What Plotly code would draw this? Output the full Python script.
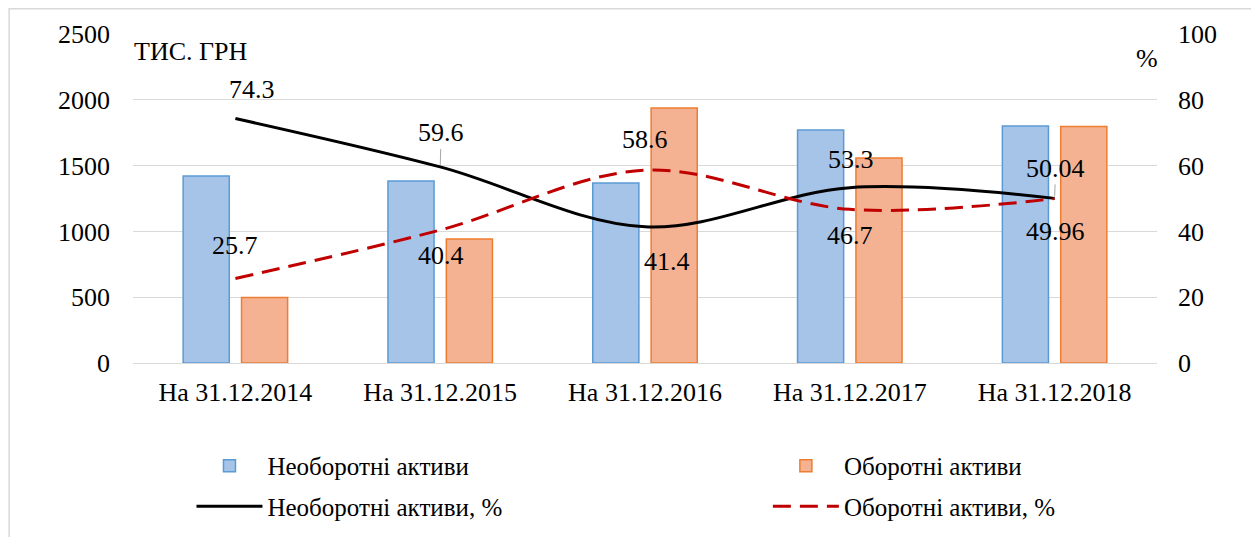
import plotly.graph_objects as go

categories = ["На 31.12.2014", "На 31.12.2015", "На 31.12.2016", "На 31.12.2017", "На 31.12.2018"]
noncurrent = [1421, 1383, 1368, 1771, 1801]
current = [497, 942, 1938, 1558, 1798]
noncurrent_pct = [74.3, 59.6, 41.4, 53.3, 50.04]
current_pct = [25.7, 40.4, 58.6, 46.7, 49.96]
noncurrent_pct_labels = ["74.3", "59.6", "41.4", "53.3", "50.04"]
current_pct_labels = ["25.7", "40.4", "58.6", "46.7", "49.96"]

# label offsets (px) styling
nc_dx = [17, 1, 22, 1, 1]
nc_dy = [-29, -34, 35, -28, -30]
nc_arrow = [False, True, False, False, True]
c_dx = [0, 1, 0, 0, 1]
c_dy = [-33, 25, -31, 26, 33]

FONT = "Liberation Serif, Times New Roman, serif"
FS = 26

fig = go.Figure()
fig.add_trace(go.Bar(
    x=categories, y=noncurrent, name="Необоротні активи",
    legend="legend", legendgroup="a",
    marker=dict(color="#A6C3E8", line=dict(color="#5B9BD5", width=1.5)),
))
fig.add_trace(go.Bar(
    x=categories, y=current, name="Оборотні активи",
    legend="legend2", legendgroup="b",
    marker=dict(color="#F5B293", line=dict(color="#ED7D31", width=1.5)),
))
fig.add_trace(go.Scatter(
    x=categories, y=noncurrent_pct, name="Необоротні активи, %", yaxis="y2",
    legend="legend", legendgroup="c",
    mode="lines", line=dict(color="black", width=3, shape="spline", smoothing=1.0),
))
fig.add_trace(go.Scatter(
    x=categories, y=current_pct, name="Оборотні активи, %", yaxis="y2",
    legend="legend2", legendgroup="d",
    mode="lines", line=dict(color="#C00000", width=3, shape="spline", smoothing=1.0, dash="18px,9px"),
))

annotations = []
for i, c in enumerate(categories):
    if nc_arrow[i]:
        annotations.append(dict(x=c, y=noncurrent_pct[i], xref="x", yref="y2",
                                text=noncurrent_pct_labels[i], showarrow=True, arrowhead=0,
                                arrowcolor="#A6A6A6", arrowwidth=1, ax=nc_dx[i], ay=nc_dy[i],
                                standoff=2, font=dict(family=FONT, size=FS, color="black")))
    else:
        annotations.append(dict(x=c, y=noncurrent_pct[i], xref="x", yref="y2",
                                text=noncurrent_pct_labels[i], showarrow=False,
                                xshift=nc_dx[i], yshift=-nc_dy[i],
                                font=dict(family=FONT, size=FS, color="black")))
    annotations.append(dict(x=c, y=current_pct[i], xref="x", yref="y2",
                            text=current_pct_labels[i], showarrow=False,
                            xshift=c_dx[i], yshift=-c_dy[i],
                            font=dict(family=FONT, size=FS, color="black")))

annotations.append(dict(x=-0.0005, y=0.9453, xref="paper", yref="paper", text="ТИС. ГРН",
                        showarrow=False, xanchor="left", yanchor="middle",
                        font=dict(family=FONT, size=FS, color="black")))
annotations.append(dict(x=0.9898, y=0.927, xref="paper", yref="paper", text="%",
                        showarrow=False, xanchor="center", yanchor="middle",
                        font=dict(family=FONT, size=FS, color="black")))

legend_common = dict(orientation="v", yanchor="top", y=-0.243, xanchor="left",
                     itemwidth=66, tracegroupgap=5, font=dict(family=FONT, size=25),
                     bgcolor="rgba(0,0,0,0)", traceorder="grouped")

fig.update_layout(
    width=1251, height=529,
    margin=dict(l=124.5, r=101.5, t=26, b=174, autoexpand=False),
    paper_bgcolor="white", plot_bgcolor="white",
    font=dict(family=FONT, size=FS, color="black"),
    barmode="group", bargap=0.43, bargroupgap=0.21,
    xaxis=dict(showgrid=False, showline=True, linecolor="#D9D9D9", linewidth=1,
               ticks="", ticklabelstandoff=6, tickfont=dict(family=FONT, size=FS)),
    yaxis=dict(range=[0, 2500], dtick=500, showgrid=True, gridcolor="#D9D9D9", gridwidth=1,
               zeroline=False, showline=False, ticks="", ticklabelstandoff=22,
               tickfont=dict(family=FONT, size=FS)),
    yaxis2=dict(range=[0, 100], dtick=20, overlaying="y", side="right", showgrid=False,
                zeroline=False, showline=False, ticks="", ticklabelstandoff=20,
                tickfont=dict(family=FONT, size=FS)),
    legend=dict(x=0.0571, **legend_common),
    legend2=dict(x=0.62, **legend_common),
    annotations=annotations,
    shapes=[dict(type="rect", xref="paper", yref="paper", x0=-0.121, x1=1.0942,
                 y0=-0.6, y1=1.0768, line=dict(color="#D9D9D9", width=1.5), layer="below")],
)

fig.write_html("out.html")
